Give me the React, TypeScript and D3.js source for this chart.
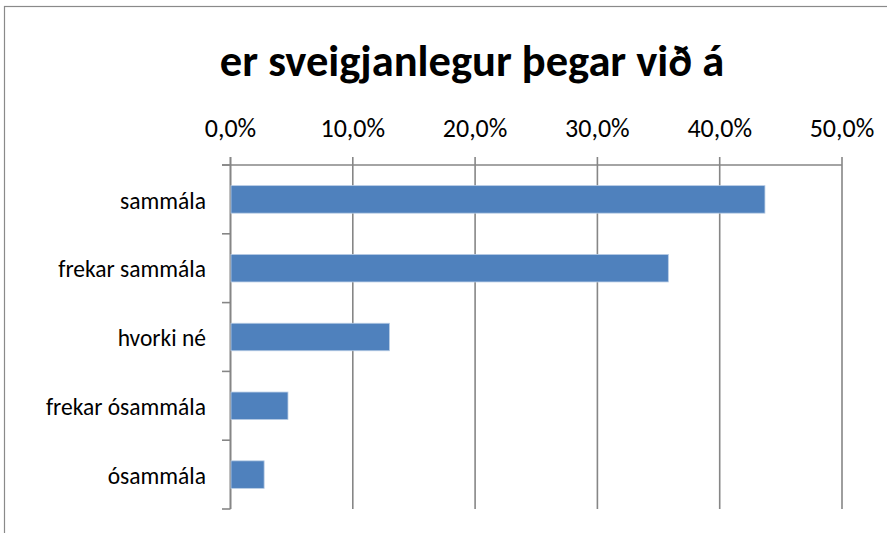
import React from "react";
import * as d3 from "d3";

const categories = ["sammála", "frekar sammála", "hvorki né", "frekar ósammála", "ósammála"];
const values = [43.7, 35.8, 13.0, 4.7, 2.75];
const tickValues = [0, 10, 20, 30, 40, 50];
const title = "er sveigjanlegur þegar við á";

const W = 887;
const H = 533;
const FONT = "Carlito, Lato, 'Open Sans', sans-serif";

export default function App() {
  const left = 230.5;
  const right = 842;
  const top = 165;
  const bottom = 509;
  const x = d3.scaleLinear().domain([0, 50]).range([left, right]);
  const y = d3.scaleBand<string>().domain(categories).range([top, bottom]).paddingInner(0.6).paddingOuter(0.3);
  const fmt = (v: number) => d3.format(".1f")(v).replace(".", ",") + "%";
  const band = (bottom - top) / categories.length;
  const grid = "#868686";

  return (
    <svg width={W} height={H} style={{ position: "absolute", left: 0, top: 0, background: "#fff" }}>
      <rect x={4.5} y={6.5} width={W + 10} height={H + 10} fill="#fff" stroke="#8a8a8a" strokeWidth={1.2} />
      <text x={472} y={76} textAnchor="middle" fontFamily={FONT} fontWeight="bold" fontSize={44.5} fill="#000">
        {title}
      </text>
      {tickValues.map((t) => (
        <g key={t}>
          <line x1={x(t)} x2={x(t)} y1={157} y2={bottom} stroke={grid} strokeWidth={1.6} />
          <text x={x(t)} y={137} textAnchor="middle" fontFamily={FONT} fontSize={26} fill="#000">
            {fmt(t)}
          </text>
        </g>
      ))}
      <line x1={222} x2={right} y1={top} y2={top} stroke={grid} strokeWidth={1.6} />
      <line x1={left} x2={left} y1={157} y2={bottom} stroke={grid} strokeWidth={1.6} />
      {d3.range(categories.length + 1).map((i) => (
        <line key={i} x1={222} x2={left} y1={top + i * band} y2={top + i * band} stroke={grid} strokeWidth={1.6} />
      ))}
      {categories.map((c, i) => (
        <g key={c}>
          <rect
            x={x(0) + 0.5}
            y={y(c)!}
            width={x(values[i]) - x(0) - 0.5}
            height={y.bandwidth()}
            fill="#4F81BD"
            stroke="#B9CDE5"
            strokeWidth={0.8}
          />
          <text
            x={206}
            y={y(c)! + y.bandwidth() / 2 + 1}
            dy="0.35em"
            textAnchor="end"
            fontFamily={FONT}
            fontSize={23.5}
            fill="#000"
          >
            {c}
          </text>
        </g>
      ))}
    </svg>
  );
}
